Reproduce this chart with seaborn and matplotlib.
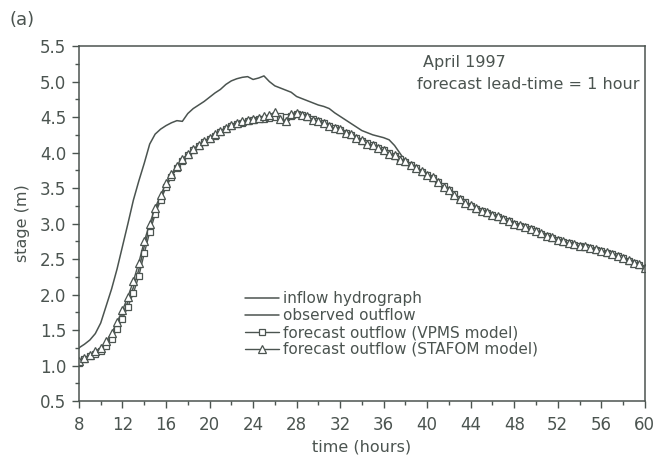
import numpy as np
import pandas as pd
import matplotlib
matplotlib.use("Agg")
import matplotlib.pyplot as plt
import seaborn as sns

# ---- data (time step 0.5 h, 8 .. 60 h) ----
t_start, t_end, t_step = 8.0, 60.0, 0.5

inflow = [
    1.25, 1.30, 1.36, 1.45, 1.60, 1.84, 2.08, 2.36, 2.68, 3.00,
    3.33, 3.60, 3.85, 4.12, 4.26, 4.33, 4.38, 4.42, 4.45, 4.44,
    4.55, 4.62, 4.67, 4.72, 4.78, 4.84, 4.89, 4.96, 5.01, 5.04,
    5.06, 5.07, 5.03, 5.05, 5.08, 5.00, 4.94, 4.91, 4.88, 4.85,
    4.79, 4.76, 4.73, 4.70, 4.67, 4.65, 4.62, 4.56, 4.51, 4.46,
    4.41, 4.36, 4.31, 4.28, 4.25, 4.23, 4.21, 4.18, 4.10, 3.99,
    3.88, 3.83, 3.78, 3.74, 3.70, 3.65, 3.59, 3.53, 3.47, 3.41,
    3.35, 3.30, 3.26, 3.22, 3.19, 3.16, 3.13, 3.10, 3.07, 3.04,
    3.01, 2.98, 2.96, 2.93, 2.90, 2.87, 2.84, 2.81, 2.78, 2.75,
    2.73, 2.71, 2.69, 2.68, 2.66, 2.64, 2.62, 2.60, 2.58, 2.55,
    2.52, 2.49, 2.46, 2.43, 2.39,
]

observed = [
    1.05, 1.10, 1.14, 1.18, 1.23, 1.31, 1.42, 1.56, 1.72, 1.90,
    2.10, 2.35, 2.68, 2.95, 3.18, 3.36, 3.54, 3.68, 3.79, 3.89,
    3.97, 4.04, 4.10, 4.15, 4.20, 4.25, 4.30, 4.34, 4.38, 4.41,
    4.43, 4.45, 4.47, 4.48, 4.49, 4.50, 4.50, 4.51, 4.52, 4.53,
    4.53, 4.52, 4.49, 4.46, 4.43, 4.40, 4.37, 4.34, 4.31, 4.28,
    4.24, 4.20, 4.16, 4.12, 4.09, 4.06, 4.02, 3.98, 3.94, 3.90,
    3.86, 3.82, 3.77, 3.73, 3.69, 3.64, 3.58, 3.52, 3.46, 3.40,
    3.34, 3.29, 3.25, 3.21, 3.18, 3.15, 3.12, 3.09, 3.06, 3.03,
    3.00, 2.97, 2.95, 2.92, 2.89, 2.86, 2.83, 2.80, 2.77, 2.74,
    2.72, 2.70, 2.68, 2.67, 2.65, 2.63, 2.61, 2.59, 2.57, 2.54,
    2.51, 2.48, 2.45, 2.42, 2.38,
]

vpms = [
    1.04, 1.09, 1.13, 1.17, 1.21, 1.28, 1.38, 1.51, 1.66, 1.83,
    2.02, 2.26, 2.58, 2.88, 3.13, 3.33, 3.51, 3.66, 3.78, 3.88,
    3.96, 4.03, 4.09, 4.15, 4.19, 4.24, 4.29, 4.33, 4.37, 4.40,
    4.42, 4.44, 4.46, 4.47, 4.48, 4.49, 4.50, 4.52, 4.50, 4.52,
    4.54, 4.53, 4.50, 4.47, 4.44, 4.41, 4.38, 4.35, 4.32, 4.28,
    4.25, 4.21, 4.17, 4.13, 4.10, 4.06, 4.03, 3.99, 3.95, 3.91,
    3.87, 3.83, 3.78, 3.73, 3.69, 3.64, 3.58, 3.53, 3.47, 3.41,
    3.35, 3.30, 3.25, 3.21, 3.18, 3.15, 3.12, 3.09, 3.06, 3.03,
    3.00, 2.97, 2.95, 2.92, 2.89, 2.86, 2.83, 2.80, 2.77, 2.74,
    2.72, 2.70, 2.68, 2.67, 2.65, 2.63, 2.61, 2.59, 2.57, 2.54,
    2.51, 2.48, 2.45, 2.42, 2.38,
]

stafom = [
    1.06, 1.11, 1.15, 1.20, 1.25, 1.34, 1.46, 1.61, 1.78, 1.97,
    2.19, 2.45, 2.75, 3.00, 3.22, 3.40, 3.57, 3.70, 3.81, 3.91,
    3.98, 4.05, 4.11, 4.16, 4.21, 4.26, 4.31, 4.35, 4.39, 4.42,
    4.44, 4.46, 4.47, 4.49, 4.51, 4.53, 4.57, 4.48, 4.45, 4.55,
    4.56, 4.53, 4.51, 4.46, 4.45, 4.42, 4.38, 4.34, 4.33, 4.28,
    4.26, 4.20, 4.18, 4.12, 4.11, 4.06, 4.04, 3.98, 3.96, 3.90,
    3.88, 3.82, 3.78, 3.74, 3.69, 3.65, 3.59, 3.52, 3.47, 3.40,
    3.34, 3.29, 3.26, 3.22, 3.18, 3.16, 3.12, 3.10, 3.06, 3.04,
    3.00, 2.98, 2.95, 2.93, 2.89, 2.87, 2.83, 2.81, 2.77, 2.75,
    2.72, 2.71, 2.68, 2.68, 2.65, 2.64, 2.61, 2.60, 2.57, 2.55,
    2.51, 2.49, 2.45, 2.43, 2.38,
]

labels = ["inflow hydrograph", "observed outflow",
          "forecast outflow (VPMS model)", "forecast outflow (STAFOM model)"]
x_ticks = [8, 12, 16, 20, 24, 28, 32, 36, 40, 44, 48, 52, 56, 60]
y_ticks = [0.5, 1.0, 1.5, 2.0, 2.5, 3.0, 3.5, 4.0, 4.5, 5.0, 5.5]

time = np.arange(t_start, t_end + t_step / 2, t_step)
df = pd.DataFrame({"time": time, "inflow": inflow, "observed": observed,
                   "vpms": vpms, "stafom": stafom})

# ---- style ----
sns.set_theme(style="ticks")
plt.rcParams["font.family"] = ["DejaVu Sans"]
ink = "#4b5450"
plt.rcParams.update({
    "axes.edgecolor": ink, "xtick.color": ink, "ytick.color": ink,
    "text.color": ink, "axes.labelcolor": ink,
})

fig = plt.figure(figsize=(6.58, 4.61), dpi=100)
ax = fig.add_axes([0.120, 0.130, 0.860, 0.770])

sns.lineplot(data=df, x="time", y="inflow", ax=ax, color=ink, lw=1.1,
             label=labels[0])
sns.lineplot(data=df, x="time", y="observed", ax=ax, color=ink, lw=1.1,
             label=labels[1])
sns.lineplot(data=df, x="time", y="vpms", ax=ax, color=ink, lw=1.0,
             marker="s", markersize=4.2, markerfacecolor="white",
             markeredgecolor=ink, markeredgewidth=0.9, label=labels[2])
sns.lineplot(data=df, x="time", y="stafom", ax=ax, color=ink, lw=1.0,
             marker="^", markersize=5.2, markerfacecolor="white",
             markeredgecolor=ink, markeredgewidth=0.9, label=labels[3])

ax.set_xlim(8, 60)
ax.set_ylim(0.5, 5.5)
ax.set_xticks(x_ticks)
ax.set_yticks(y_ticks)
ax.set_yticklabels([f"{v:.1f}" for v in y_ticks])
ax.set_xticks(np.arange(10, 60, 4), minor=True)
ax.set_yticks(np.arange(0.75, 5.5, 0.5), minor=True)
ax.tick_params(axis="both", which="major", direction="out", length=5,
               width=1.0, labelsize=12)
ax.tick_params(axis="x", which="major", pad=6)
ax.tick_params(axis="y", which="major", pad=4)
ax.tick_params(axis="both", which="minor", direction="out", length=3,
               width=1.0)
for s in ax.spines.values():
    s.set_linewidth(1.1)
    s.set_color(ink)

ax.set_xlabel("time (hours)", fontsize=11.5, labelpad=4)
ax.set_ylabel("stage (m)", fontsize=11.5, labelpad=7)

leg = ax.legend(loc="upper left", bbox_to_anchor=(0.283, 0.326),
                frameon=False, fontsize=11, handlelength=2.2,
                handletextpad=0.3, labelspacing=0.12, borderaxespad=0)
for txt in leg.get_texts():
    txt.set_color(ink)

ax.text(0.608, 0.975, "April 1997", transform=ax.transAxes, fontsize=11.5,
        va="top", ha="left")
ax.text(0.598, 0.913, "forecast lead-time = 1 hour", transform=ax.transAxes,
        fontsize=11.5, va="top", ha="left")
fig.text(0.014, 0.957, "(a)", fontsize=13, ha="left", va="center", color=ink)

fig.savefig("out.png", dpi=100, facecolor="white")
